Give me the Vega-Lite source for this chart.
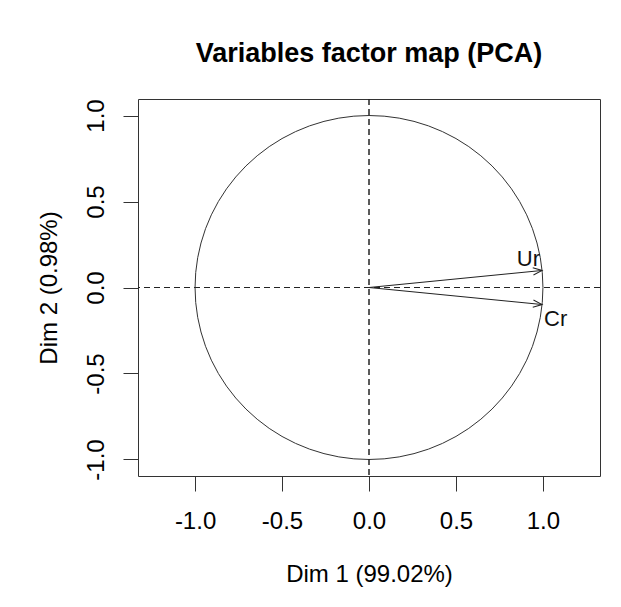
{
  "$schema": "https://vega.github.io/schema/vega-lite/v6.json",
  "autosize": {"type": "none"},
  "width": 462,
  "height": 377,
  "padding": {"left": 138, "top": 99, "right": 21, "bottom": 131},
  "background": "white",
  "title": {"text": "Variables factor map (PCA)", "fontSize": 27, "fontWeight": "bold", "font": "Liberation Sans", "color": "#000", "anchor": "middle", "frame": "group", "offset": 31},
  "datasets": {
    "circle": [
      {"i":0,"x":1,"y":0},{"i":1,"x":0.9962,"y":0.0872},{"i":2,"x":0.9848,"y":0.1736},{"i":3,"x":0.9659,"y":0.2588},{"i":4,"x":0.9397,"y":0.342},{"i":5,"x":0.9063,"y":0.4226},{"i":6,"x":0.866,"y":0.5},{"i":7,"x":0.8192,"y":0.5736},{"i":8,"x":0.766,"y":0.6428},{"i":9,"x":0.7071,"y":0.7071},{"i":10,"x":0.6428,"y":0.766},{"i":11,"x":0.5736,"y":0.8192},{"i":12,"x":0.5,"y":0.866},{"i":13,"x":0.4226,"y":0.9063},{"i":14,"x":0.342,"y":0.9397},{"i":15,"x":0.2588,"y":0.9659},{"i":16,"x":0.1736,"y":0.9848},{"i":17,"x":0.0872,"y":0.9962},{"i":18,"x":0,"y":1},
      {"i":19,"x":-0.0872,"y":0.9962},{"i":20,"x":-0.1736,"y":0.9848},{"i":21,"x":-0.2588,"y":0.9659},{"i":22,"x":-0.342,"y":0.9397},{"i":23,"x":-0.4226,"y":0.9063},{"i":24,"x":-0.5,"y":0.866},{"i":25,"x":-0.5736,"y":0.8192},{"i":26,"x":-0.6428,"y":0.766},{"i":27,"x":-0.7071,"y":0.7071},{"i":28,"x":-0.766,"y":0.6428},{"i":29,"x":-0.8192,"y":0.5736},{"i":30,"x":-0.866,"y":0.5},{"i":31,"x":-0.9063,"y":0.4226},{"i":32,"x":-0.9397,"y":0.342},{"i":33,"x":-0.9659,"y":0.2588},{"i":34,"x":-0.9848,"y":0.1736},{"i":35,"x":-0.9962,"y":0.0872},{"i":36,"x":-1,"y":0},
      {"i":37,"x":-0.9962,"y":-0.0872},{"i":38,"x":-0.9848,"y":-0.1736},{"i":39,"x":-0.9659,"y":-0.2588},{"i":40,"x":-0.9397,"y":-0.342},{"i":41,"x":-0.9063,"y":-0.4226},{"i":42,"x":-0.866,"y":-0.5},{"i":43,"x":-0.8192,"y":-0.5736},{"i":44,"x":-0.766,"y":-0.6428},{"i":45,"x":-0.7071,"y":-0.7071},{"i":46,"x":-0.6428,"y":-0.766},{"i":47,"x":-0.5736,"y":-0.8192},{"i":48,"x":-0.5,"y":-0.866},{"i":49,"x":-0.4226,"y":-0.9063},{"i":50,"x":-0.342,"y":-0.9397},{"i":51,"x":-0.2588,"y":-0.9659},{"i":52,"x":-0.1736,"y":-0.9848},{"i":53,"x":-0.0872,"y":-0.9962},{"i":54,"x":0,"y":-1},
      {"i":55,"x":0.0872,"y":-0.9962},{"i":56,"x":0.1736,"y":-0.9848},{"i":57,"x":0.2588,"y":-0.9659},{"i":58,"x":0.342,"y":-0.9397},{"i":59,"x":0.4226,"y":-0.9063},{"i":60,"x":0.5,"y":-0.866},{"i":61,"x":0.5736,"y":-0.8192},{"i":62,"x":0.6428,"y":-0.766},{"i":63,"x":0.7071,"y":-0.7071},{"i":64,"x":0.766,"y":-0.6428},{"i":65,"x":0.8192,"y":-0.5736},{"i":66,"x":0.866,"y":-0.5},{"i":67,"x":0.9063,"y":-0.4226},{"i":68,"x":0.9397,"y":-0.342},{"i":69,"x":0.9659,"y":-0.2588},{"i":70,"x":0.9848,"y":-0.1736},{"i":71,"x":0.9962,"y":-0.0872},{"i":72,"x":1,"y":0}
    ],
    "vars": [
      {"name": "Ur", "dim1": 0.995, "dim2": 0.099},
      {"name": "Cr", "dim1": 0.995, "dim2": -0.099}
    ]
  },
  "layer": [
    {
      "data": {"name": "circle"},
      "mark": {"type": "line", "color": "#333", "strokeWidth": 1, "clip": true},
      "encoding": {
        "x": {"field": "x", "type": "quantitative", "scale": {"domain": [-1.328, 1.328], "nice": false, "zero": false},
              "axis": {"values": [-1, -0.5, 0, 0.5, 1], "labelExpr": "datum.value < 0 ? '-' + format(-datum.value, '.1f') : format(datum.value, '.1f')", "title": "Dim 1 (99.02%)", "labelPadding": 18, "titlePadding": 29}},
        "y": {"field": "y", "type": "quantitative", "scale": {"domain": [-1.096, 1.096], "nice": false, "zero": false},
              "axis": {"values": [-1, -0.5, 0, 0.5, 1], "labelExpr": "datum.value < 0 ? '-' + format(-datum.value, '.1f') : format(datum.value, '.1f')", "title": "Dim 2 (0.98%)", "labelAngle": -90, "labelAlign": "center", "labelBaseline": "alphabetic", "labelPadding": 20, "titlePadding": 23}},
        "order": {"field": "i", "type": "quantitative"}
      }
    },
    {
      "data": {"name": "vars"},
      "mark": {"type": "rule", "color": "#222", "strokeWidth": 1, "strokeDash": [6, 4]},
      "encoding": {"y": {"datum": 0, "type": "quantitative"}}
    },
    {
      "data": {"name": "vars"},
      "mark": {"type": "rule", "color": "#222", "strokeWidth": 1, "strokeDash": [6, 4]},
      "encoding": {"x": {"datum": 0, "type": "quantitative"}}
    },
    {
      "data": {"name": "vars"},
      "mark": {"type": "rule", "color": "#222", "strokeWidth": 1},
      "encoding": {
        "x": {"field": "dim1", "type": "quantitative"},
        "y": {"field": "dim2", "type": "quantitative"},
        "x2": {"datum": 0},
        "y2": {"datum": 0}
      }
    },
    {
      "data": {"name": "vars"},
      "mark": {"type": "point", "shape": "M-1,-0.4L0,0L-1,0.4", "filled": false, "stroke": "#222", "strokeWidth": 1, "size": 324, "opacity": 1},
      "encoding": {
        "x": {"field": "dim1", "type": "quantitative"},
        "y": {"field": "dim2", "type": "quantitative"},
        "angle": {"condition": {"test": "datum.name === 'Ur'", "value": -5.7}, "value": 5.7}
      }
    },
    {
      "data": {"name": "vars"},
      "transform": [{"filter": "datum.name === 'Ur'"}],
      "mark": {"type": "text", "align": "right", "baseline": "alphabetic", "dx": -2, "dy": -4, "fontSize": 22, "font": "Liberation Sans", "color": "#111"},
      "encoding": {
        "x": {"field": "dim1", "type": "quantitative"},
        "y": {"field": "dim2", "type": "quantitative"},
        "text": {"field": "name"}
      }
    },
    {
      "data": {"name": "vars"},
      "transform": [{"filter": "datum.name === 'Cr'"}],
      "mark": {"type": "text", "align": "left", "baseline": "top", "dx": 2, "dy": 4, "fontSize": 22, "font": "Liberation Sans", "color": "#111"},
      "encoding": {
        "x": {"field": "dim1", "type": "quantitative"},
        "y": {"field": "dim2", "type": "quantitative"},
        "text": {"field": "name"}
      }
    }
  ],
  "config": {
    "view": {"stroke": "#333", "strokeWidth": 1},
    "axis": {
      "grid": false,
      "domain": false,
      "ticks": true,
      "tickSize": 15,
      "tickColor": "#333",
      "tickWidth": 1,
      "labelFont": "Liberation Sans",
      "labelFontSize": 24,
      "labelColor": "#000",
      "titleFont": "Liberation Sans",
      "titleFontSize": 24,
      "titleFontWeight": "normal",
      "titleColor": "#000"
    }
  }
}
